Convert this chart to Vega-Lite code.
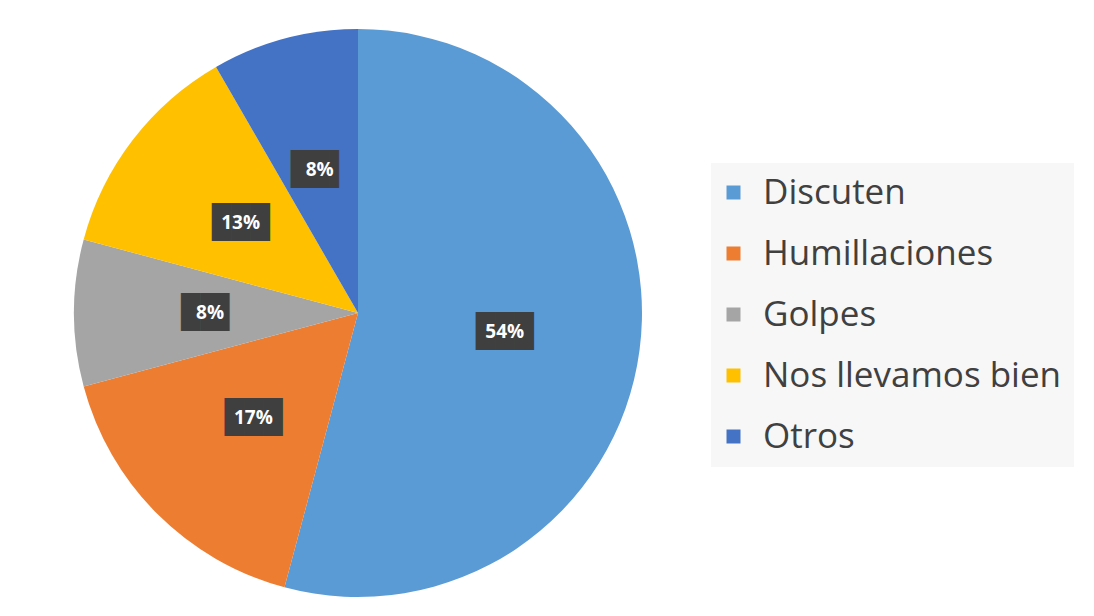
{
  "$schema": "https://vega.github.io/schema/vega-lite/v6.json",
  "width": 702,
  "height": 608,
  "padding": {"left": 7, "top": 9, "right": 0, "bottom": 0},
  "background": "white",
  "config": {"view": {"stroke": null}},
  "data": {
    "values": [
      {"idx": 1, "categoria": "Discuten", "n": 13, "pct": "54%"},
      {"idx": 2, "categoria": "Humillaciones", "n": 4, "pct": "17%"},
      {"idx": 3, "categoria": "Golpes", "n": 2, "pct": "8%"},
      {"idx": 4, "categoria": "Nos llevamos bien", "n": 3, "pct": "13%"},
      {"idx": 5, "categoria": "Otros", "n": 2, "pct": "8%"}
    ]
  },
  "transform": [
    {"calculate": "length(datum.pct) > 2 ? '███' : '██▌'", "as": "caja"}
  ],
  "encoding": {
    "theta": {"field": "n", "type": "quantitative", "stack": true},
    "order": {"field": "idx", "type": "quantitative"}
  },
  "layer": [
    {
      "mark": {"type": "arc", "outerRadius": 284},
      "encoding": {
        "color": {
          "field": "categoria",
          "type": "nominal",
          "sort": ["Discuten", "Humillaciones", "Golpes", "Nos llevamos bien", "Otros"],
          "scale": {
            "domain": ["Discuten", "Humillaciones", "Golpes", "Nos llevamos bien", "Otros"],
            "range": ["#5B9BD5", "#ED7D31", "#A5A5A5", "#FFC000", "#4472C4"]
          },
          "legend": {
            "title": null,
            "orient": "none",
            "legendX": 704,
            "legendY": 154,
            "fillColor": "#F7F7F7",
            "padding": 12,
            "symbolOffset": -7,
            "symbolType": "square",
            "symbolSize": 196,
            "symbolStrokeWidth": 0,
            "labelFont": "Open Sans",
            "labelFontSize": 35,
            "labelColor": "#404040",
            "labelOffset": 12,
            "rowPadding": 25,
            "labelLimit": 500
          }
        }
      }
    },
    {
      "mark": {"type": "text", "radius": 148, "font": "DejaVu Sans Mono", "fontSize": 32, "color": "#3F3F3F"},
      "encoding": {
        "detail": {"field": "categoria"},
        "text": {"field": "caja"}
      }
    },
    {
      "mark": {"type": "text", "radius": 148, "font": "Open Sans", "fontWeight": "bold", "fontSize": 19, "color": "white"},
      "encoding": {
        "detail": {"field": "categoria"},
        "text": {"field": "pct"}
      }
    }
  ]
}
